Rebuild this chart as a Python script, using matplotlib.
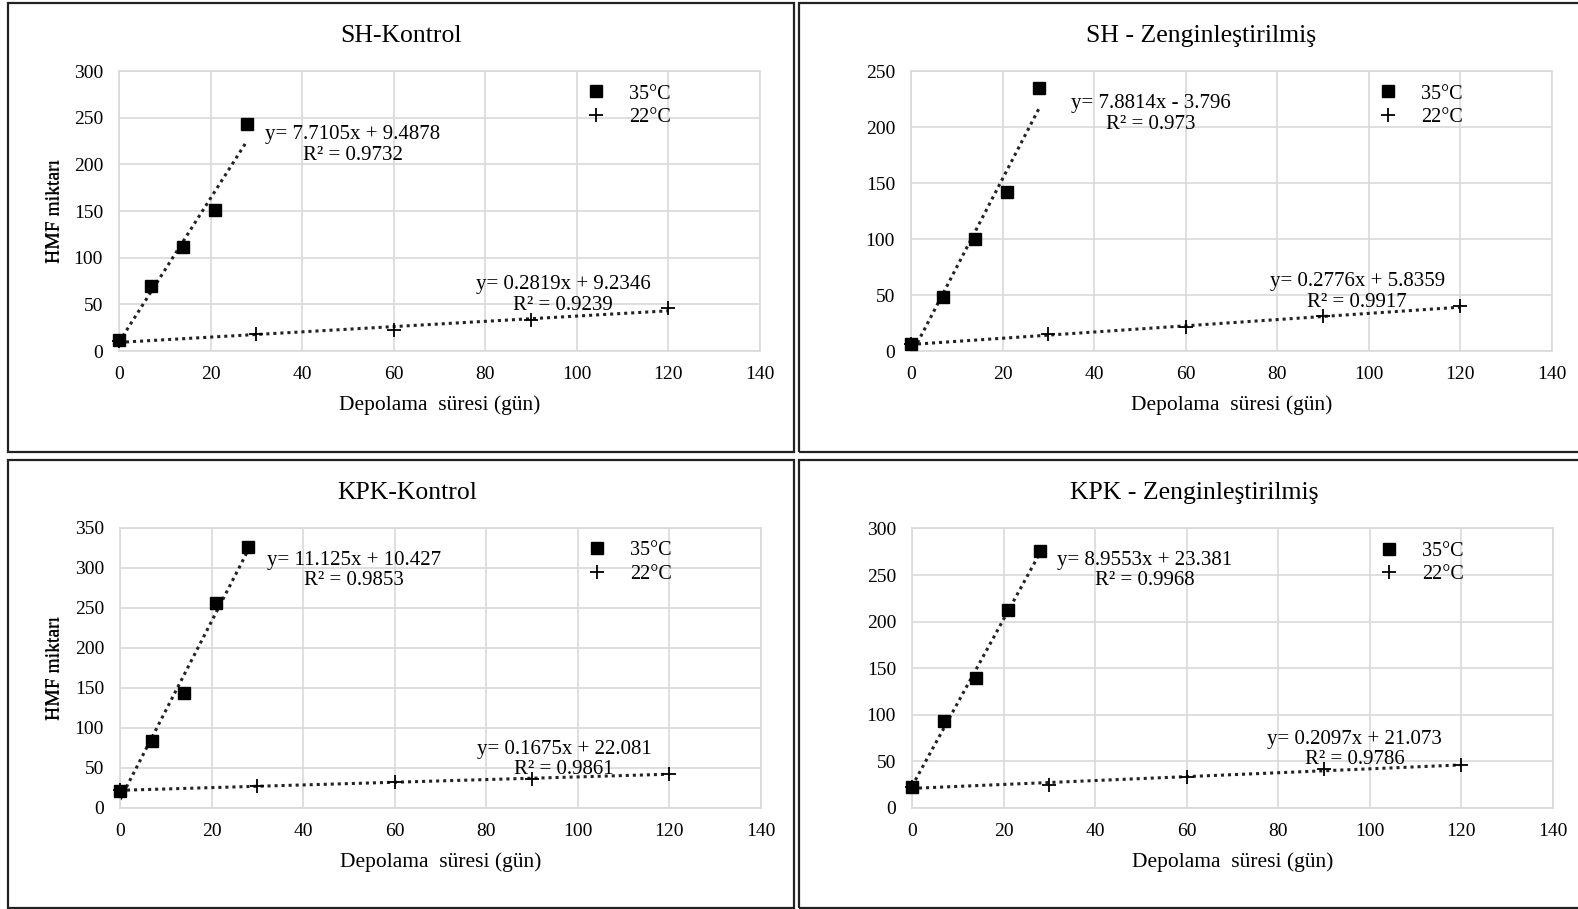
import matplotlib
matplotlib.use("Agg")
import matplotlib.pyplot as plt
from matplotlib.patches import Rectangle
import numpy as np

plt.rcParams['font.family'] = ['Liberation Serif', 'DejaVu Serif']

titles = ["SH-Kontrol", "SH - Zenginleştirilmiş", "KPK-Kontrol", "KPK - Zenginleştirilmiş"]
x35 = [0, 7, 14, 21, 28]
x22 = [0, 30, 60, 90, 120]
y35_sh_k = [12, 70, 111, 151, 243]
y22_sh_k = [11, 18, 23, 33, 46]
y35_sh_z = [6, 48, 100, 142, 235]
y22_sh_z = [6, 15, 21, 31, 40]
y35_kpk_k = [21, 84, 143, 256, 326]
y22_kpk_k = [23, 27, 32, 36, 43]
y35_kpk_z = [22, 93, 140, 212, 276]
y22_kpk_z = [22, 25, 33, 42, 46]
y35_all = [y35_sh_k, y35_sh_z, y35_kpk_k, y35_kpk_z]
y22_all = [y22_sh_k, y22_sh_z, y22_kpk_k, y22_kpk_z]
slope35 = [7.7105, 7.8814, 11.125, 8.9553]
icpt35 = [9.4878, -3.796, 10.427, 23.381]
r2_35 = ["0.9732", "0.973", "0.9853", "0.9968"]
slope22 = [0.2819, 0.2776, 0.1675, 0.2097]
icpt22 = [9.2346, 5.8359, 22.081, 21.073]
r2_22 = ["0.9239", "0.9917", "0.9861", "0.9786"]
ymax = [300, 250, 350, 300]
xticks = [0, 20, 40, 60, 80, 100, 120, 140]
series_labels = ["35°C", "22°C"]
xlabel = "Depolama  süresi (gün)"
ylabel = "HMF miktarı"

W, H = 1578, 909
fig = plt.figure(figsize=(W / 100, H / 100), dpi=100)

# axes rectangles in pixel units (left, top, right, bottom)
ax_px = [(119, 71, 760, 351), (911, 71, 1552, 351), (120, 527.5, 761, 808), (912, 528.4, 1553, 808)]
title_px = [(401, 36), (1200.6, 36), (407.6, 493), (1194.6, 493)]
eq35_pos = [(0.365, 0.736), (0.374, 0.846), (0.365, 0.846), (0.363, 0.849)]
eq22_pos = [(0.693, 0.200), (0.696, 0.211), (0.693, 0.173), (0.691, 0.210)]
panel_px = [(8, 3, 794, 452), (799, 3, 1582, 452), (8, 460, 794, 908), (799, 460, 1582, 908)]

gridc = '#d9d9d9'
for i in range(4):
    l, t, r, b = ax_px[i]
    ax = fig.add_axes([l / W, 1 - b / H, (r - l) / W, (b - t) / H])
    ax.set_xlim(0, 140)
    ax.set_ylim(0, ymax[i])
    ax.set_xticks(xticks)
    ax.set_yticks(np.arange(0, ymax[i] + 1, 50))
    ax.grid(True, color=gridc, lw=1.2)
    ax.set_axisbelow(True)
    for s in ax.spines.values():
        s.set_color(gridc)
        s.set_linewidth(1.2)
    ax.tick_params(length=0, labelsize=14, colors='black')
    ax.tick_params(axis='y', pad=11.5)
    ax.tick_params(axis='x', pad=11)

    # trendlines
    xs35 = np.array([min(x35), max(x35)])
    ax.plot(xs35, slope35[i] * xs35 + icpt35[i], color='#222222', lw=2.2,
            ls=(0, (1, 1.3)), zorder=2)
    xs22 = np.array([min(x22), max(x22)])
    ax.plot(xs22, slope22[i] * xs22 + icpt22[i], color='#222222', lw=2.2,
            ls=(0, (1, 1.3)), zorder=2)

    h35, = ax.plot(x35, y35_all[i], 's', color='black', ms=8, clip_on=False, zorder=3,
                   label=series_labels[0])
    h22, = ax.plot(x22, y22_all[i], '+', color='black', ms=10, mew=1.3, clip_on=False, zorder=3,
                   label=series_labels[1])

    sgn = '+' if icpt35[i] >= 0 else '-'
    ax.text(eq35_pos[i][0], eq35_pos[i][1],
            f"y= {slope35[i]}x {sgn} {abs(icpt35[i])}\nR² = {r2_35[i]}",
            transform=ax.transAxes, ha='center', va='center', fontsize=15,
            linespacing=1.1, multialignment='center')
    sgn = '+' if icpt22[i] >= 0 else '-'
    ax.text(eq22_pos[i][0], eq22_pos[i][1],
            f"y= {slope22[i]}x {sgn} {abs(icpt22[i])}\nR² = {r2_22[i]}",
            transform=ax.transAxes, ha='center', va='center', fontsize=15,
            linespacing=1.1, multialignment='center')

    ax.legend(handles=[h35, h22], loc='upper left', bbox_to_anchor=(0.7285, 0.952),
              frameon=False, fontsize=14.5, handlelength=1.0, handletextpad=1.15,
              borderpad=0, borderaxespad=0, labelspacing=0.22, numpoints=1)

    ax.set_xlabel(xlabel, fontsize=15.5)
    ax.xaxis.set_label_coords(0.5, -54.5 / (b - t))
    ax.xaxis.label.set_va('center')
    ax.set_ylabel(ylabel, fontsize=14)
    ax.yaxis.set_label_coords(-(l - 55) / (r - l), 0.5)
    ax.yaxis.label.set_va('center')

    fig.text(title_px[i][0] / W, 1 - title_px[i][1] / H, titles[i], fontsize=18.5,
             ha='center', va='center')

    pl, pt, pr, pb = panel_px[i]
    fig.patches.append(Rectangle((pl / W, 1 - pb / H), (pr - pl) / W, (pb - pt) / H,
                                 transform=fig.transFigure, fill=False,
                                 edgecolor='#222222', lw=1.6))

fig.savefig("out.png", dpi=100)
